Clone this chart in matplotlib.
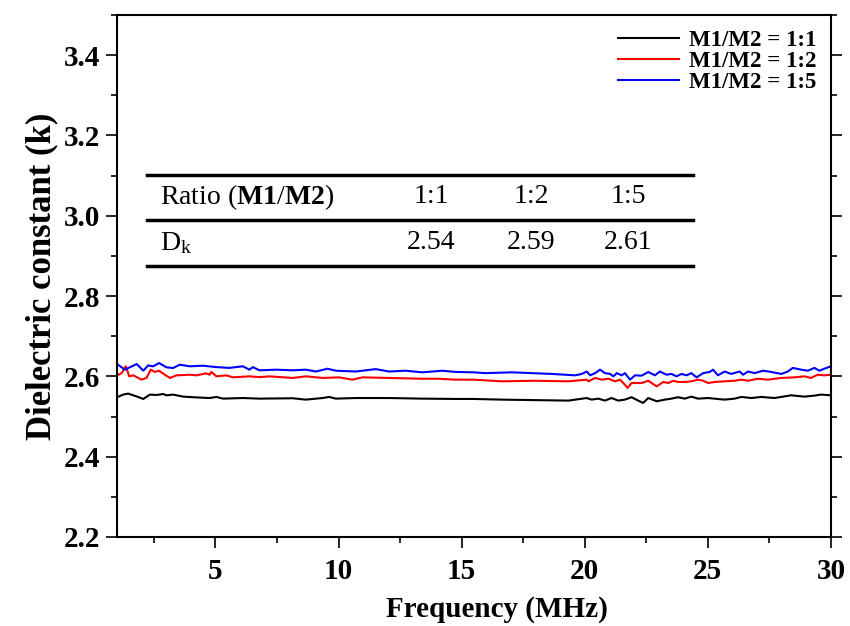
import numpy as np
import matplotlib
matplotlib.use('Agg')
import matplotlib.pyplot as plt
from matplotlib.ticker import MultipleLocator

plt.rcParams['font.family'] = ['Liberation Serif', 'DejaVu Serif']
plt.rcParams['mathtext.fontset'] = 'custom'
plt.rcParams['mathtext.rm'] = 'Liberation Serif'
plt.rcParams['mathtext.bf'] = 'Liberation Serif:bold'
plt.rcParams['mathtext.it'] = 'Liberation Serif:italic'

# values
f11 = [1.01, 1.25, 1.45, 1.80, 2.07, 2.34, 2.61, 2.88, 3.01, 3.28, 3.69, 4.09, 4.76, 5.04, 5.31, 6.11, 6.79, 8.14,
       8.67, 9.35, 9.62, 9.89, 10.70, 12.05, 13.40, 14.75, 15.49, 16.64, 19.34, 20.08, 20.28, 20.55, 20.82, 21.09,
       21.36, 21.63, 21.90, 22.17, 22.37, 22.58, 22.92, 23.25, 23.52, 23.79, 24.06, 24.33, 24.60, 25.01, 25.68,
       26.09, 26.36, 26.76, 27.17, 27.71, 28.38, 28.92, 29.33, 29.60, 30.0]
k11 = [2.548, 2.5545, 2.557, 2.550, 2.5437, 2.5545, 2.5536, 2.556, 2.5528, 2.5545, 2.5495, 2.548, 2.546, 2.5487,
       2.5445, 2.546, 2.5445, 2.5454, 2.542, 2.546, 2.5487, 2.5445, 2.546, 2.546, 2.5445, 2.5437, 2.5437, 2.542,
       2.5396, 2.546, 2.542, 2.5445, 2.5396, 2.546, 2.5396, 2.542, 2.548, 2.5396, 2.5338, 2.546, 2.5379, 2.542,
       2.5445, 2.548, 2.5445, 2.5495, 2.5445, 2.546, 2.542, 2.5445, 2.5487, 2.546, 2.5487, 2.546, 2.5528, 2.5495,
       2.552, 2.5545, 2.5528]

f12 = [1.01, 1.19, 1.36, 1.50, 1.66, 2.00, 2.20, 2.37, 2.54, 2.71, 2.94, 3.15, 3.42, 3.96, 4.23, 4.63, 4.76, 4.83,
       5.04, 5.44, 5.71, 6.38, 6.79, 7.19, 8.14, 8.67, 9.35, 10.02, 10.56, 10.97, 12.05, 13.40, 14.07, 14.75, 15.49,
       15.96, 16.64, 17.99, 19.34, 20.08, 20.15, 20.42, 20.69, 20.96, 21.23, 21.43, 21.63, 21.74, 21.90, 22.31,
       22.58, 22.92, 23.19, 23.39, 23.59, 23.79, 24.06, 24.33, 24.60, 24.81, 25.01, 25.28, 25.68, 26.09, 26.36,
       26.63, 27.03, 27.44, 27.98, 28.52, 28.92, 29.19, 29.46, 29.73, 30.0]
k12 = [2.6025, 2.608, 2.625, 2.600, 2.6025, 2.5917, 2.596, 2.6166, 2.611, 2.614, 2.604, 2.596, 2.6025, 2.604,
       2.6025, 2.6075, 2.604, 2.611, 2.600, 2.6025, 2.5975, 2.600, 2.598, 2.600, 2.596, 2.600, 2.596, 2.5975,
       2.5917, 2.5975, 2.596, 2.594, 2.594, 2.5917, 2.5917, 2.590, 2.5876, 2.589, 2.5876, 2.5917, 2.5876, 2.596,
       2.5917, 2.594, 2.5876, 2.5917, 2.5793, 2.571, 2.5834, 2.5834, 2.589, 2.575, 2.586, 2.5834, 2.589, 2.586,
       2.586, 2.5876, 2.5917, 2.589, 2.5834, 2.586, 2.5876, 2.589, 2.5917, 2.589, 2.594, 2.5917, 2.596, 2.5975,
       2.600, 2.596, 2.604, 2.6025, 2.604]

f15 = [1.01, 1.32, 1.80, 2.07, 2.27, 2.47, 2.71, 3.01, 3.28, 3.55, 3.96, 4.49, 5.04, 5.57, 6.11, 6.38, 6.52, 6.79,
       7.47, 8.14, 8.67, 9.08, 9.55, 9.89, 10.70, 11.51, 12.05, 12.72, 13.40, 14.21, 14.75, 15.49, 15.96, 17.04,
       18.66, 19.61, 19.88, 20.08, 20.22, 20.42, 20.62, 20.82, 21.03, 21.16, 21.30, 21.50, 21.63, 21.84, 22.04,
       22.31, 22.58, 22.85, 23.05, 23.32, 23.52, 23.73, 23.93, 24.13, 24.33, 24.54, 24.81, 25.08, 25.21, 25.41,
       25.68, 25.95, 26.29, 26.43, 26.63, 26.90, 27.24, 27.57, 27.98, 28.25, 28.45, 28.79, 29.06, 29.33, 29.53,
       29.73, 30.0]
k15 = [2.6306, 2.6166, 2.6306, 2.6141, 2.6273, 2.6248, 2.6331, 2.6224, 2.6207, 2.629, 2.625, 2.6265, 2.623, 2.621,
       2.625, 2.6166, 2.623, 2.615, 2.6166, 2.615, 2.6166, 2.612, 2.619, 2.614, 2.612, 2.618, 2.612, 2.614, 2.610,
       2.614, 2.611, 2.610, 2.608, 2.610, 2.606, 2.6025, 2.606, 2.612, 2.6025, 2.608, 2.6166, 2.608, 2.606, 2.600,
       2.608, 2.6025, 2.608, 2.5917, 2.6025, 2.6017, 2.6108, 2.6025, 2.612, 2.604, 2.606, 2.600, 2.606, 2.6025,
       2.608, 2.5975, 2.608, 2.611, 2.6166, 2.6025, 2.612, 2.606, 2.612, 2.604, 2.612, 2.608, 2.614, 2.611, 2.606,
       2.612, 2.621, 2.6166, 2.614, 2.621, 2.614, 2.619, 2.625]

labels = ['M1/M2 = 1:1', 'M1/M2 = 1:2', 'M1/M2 = 1:5']
colors = ['black', 'red', 'blue']

# inset table
tab_head = ['1:1', '1:2', '1:5']
tab_dk = ['2.54', '2.59', '2.61']

fig = plt.figure(figsize=(8.5, 6.26), dpi=100)
ax = fig.add_axes([0.1376, 0.1422, 0.84, 0.834])

for f, k, lab, c in zip([f11, f12, f15], [k11, k12, k15], labels, colors):
    ax.plot(f, k, color=c, lw=1.5, label=lab)

ax.set_xlim(1, 30)
ax.set_ylim(2.2, 3.5)
ax.xaxis.set_major_locator(MultipleLocator(5))
ax.xaxis.set_minor_locator(MultipleLocator(2.5))
ax.yaxis.set_minor_locator(MultipleLocator(0.1))
ax.set_yticks([2.2, 2.4, 2.6, 2.8, 3.0, 3.2, 3.4])
ax.tick_params(which='major', direction='out', length=8, width=1.2, labelsize=21, pad=4)
ax.tick_params(axis='x', which='major', pad=7)
ax.tick_params(which='minor', direction='out', length=4, width=1.2)
ax.tick_params(axis='y', which='both', right=True)
for t in ax.get_xticklabels() + ax.get_yticklabels():
    t.set_fontweight('bold')
for s in ax.spines.values():
    s.set_linewidth(1.5)

ax.set_xlabel('Frequency (MHz)', fontsize=21, fontweight='bold', labelpad=8)
ax.xaxis.label.set_x(0.532)
ax.set_ylabel('Dielectric constant (k)', fontsize=25, fontweight='bold', labelpad=4)

leg = ax.legend(loc='upper right', frameon=False, prop={'size': 16.5, 'weight': 'bold'},
                handlelength=2.7, handletextpad=0.4, labelspacing=0.0, borderaxespad=0.25)

# table drawn in axes coordinates
for yy in [0.6935, 0.6073, 0.5192]:
    ax.plot([0.042, 0.8067], [yy, yy], color='black', lw=2.5, transform=ax.transAxes)
ax.text(0.0602, 0.6513, r'Ratio ($\mathbf{M1}$/$\mathbf{M2}$)', fontsize=20, va='center', ha='left',
        transform=ax.transAxes)
ax.text(0.0602, 0.5632, r'D$_\mathrm{k}$', fontsize=20, va='center', ha='left', transform=ax.transAxes)
for xx, h, d in zip([0.4398, 0.58, 0.7157], tab_head, tab_dk):
    ax.text(xx, 0.6513, h, fontsize=20, va='center', ha='center', transform=ax.transAxes)
    ax.text(xx, 0.5632, d, fontsize=20, va='center', ha='center', transform=ax.transAxes)

fig.savefig('out.png', dpi=100)
